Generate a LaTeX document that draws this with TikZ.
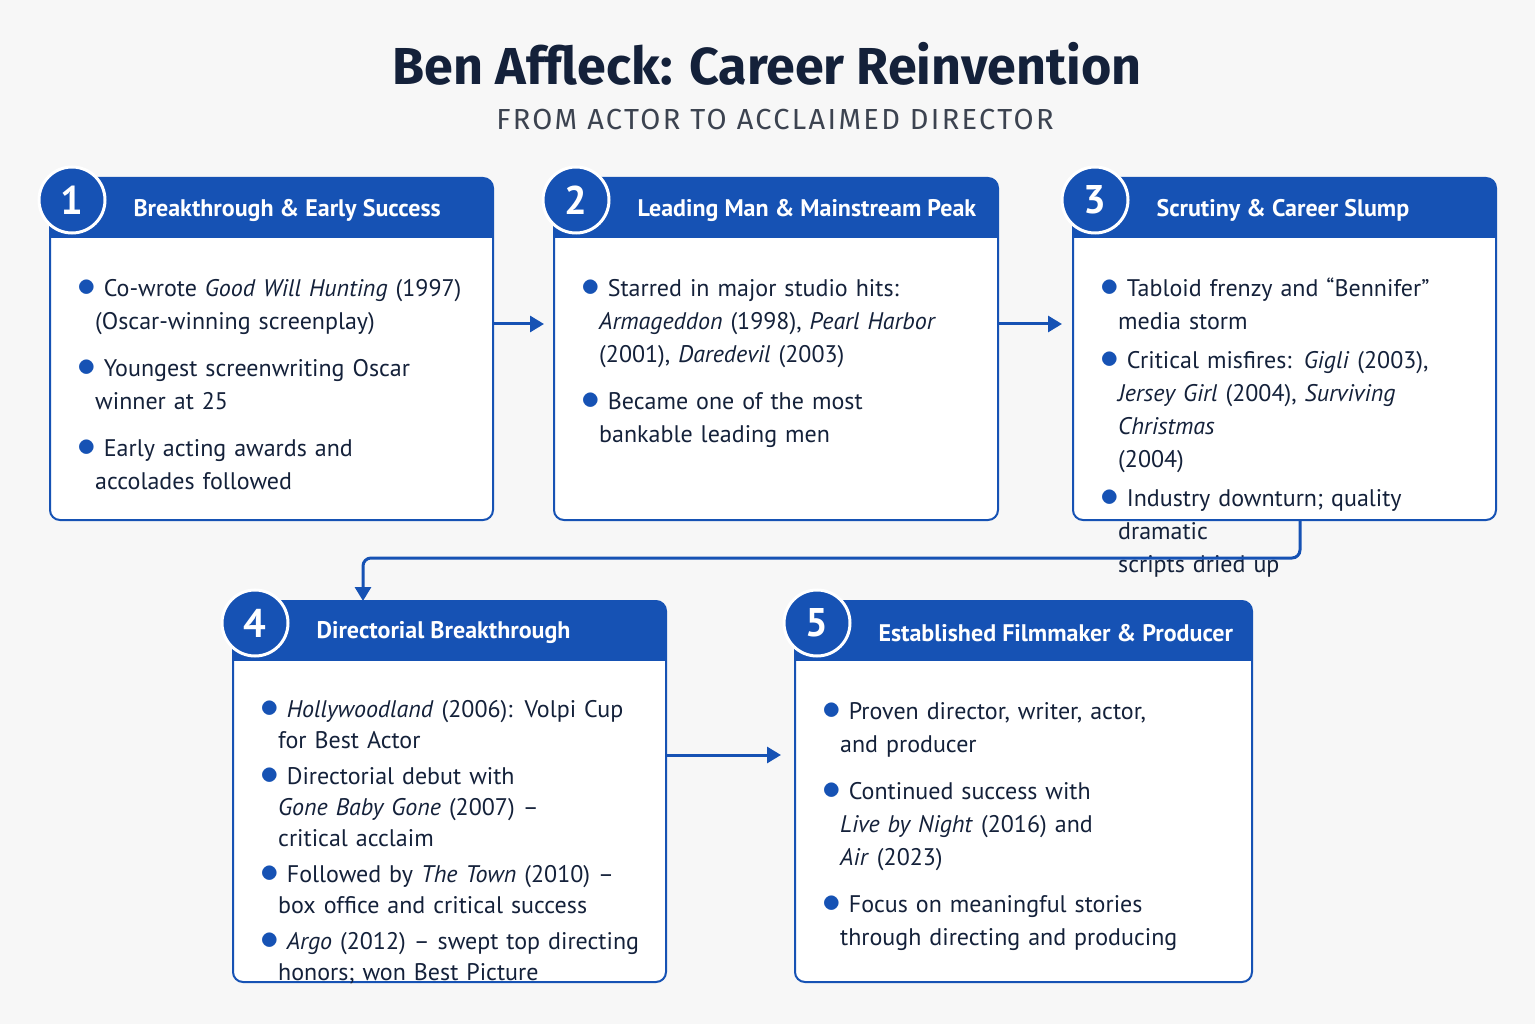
\documentclass[tikz,border=0pt]{standalone}
\usepackage{fontspec}
\setmainfont{Fira Sans}
\newfontfamily\hfont{PT Sans}
\usepackage{enumitem}
\usetikzlibrary{arrows.meta}
\definecolor{bl}{HTML}{1652B4}
\definecolor{ink}{HTML}{14213A}
\definecolor{sub}{HTML}{3C4350}
\newcommand{\blist}[2]{\begin{itemize}[leftmargin=20pt,labelwidth=10pt,labelsep=8pt,align=left,label={\textcolor{bl}{\raisebox{0pt}{\scalebox{1.5}{$\bullet$}}}},itemsep=#1,topsep=0pt,parsep=0pt,partopsep=0pt]#2\end{itemize}}
\begin{document}
\begin{tikzpicture}[x=1pt,y=-1pt,
  box/.style={draw=bl,line width=2pt,rounded corners=10pt,fill=white},
  num/.style={circle,draw=white,line width=3pt,fill=bl,minimum size=66pt,inner sep=0pt,text=white,font=\hfont\bfseries\fontsize{40}{40}\selectfont},
  htxt/.style={text=white,font=\hfont\bfseries\fontsize{24}{24}\selectfont,anchor=west},
  body/.style={anchor=north west,align=left,font=\hfont\fontsize{24}{33}\selectfont,text=ink,inner sep=0pt},
  arr/.style={draw=bl,line width=3pt,-{Triangle[length=14pt,width=16pt]}}]
\useasboundingbox (0,0) rectangle (1535,1024);
\fill[white!97!black] (0,0) rectangle (1535,1024);
\node[font=\bfseries\fontsize{52}{52}\selectfont,text=ink] (title) at (767,64) {Ben Affleck: Career Reinvention};
\node[font=\fontsize{29}{29}\selectfont,text=sub] (subt) at (775,120) {\addfontfeature{LetterSpace=8}FROM ACTOR TO ACCLAIMED DIRECTOR};
\newcommand{\stage}[9]{% name,x1,y1,x2,y2,num,title,sep,body
  \draw[box] (#2,#3) rectangle (#4,#5);
  \begin{scope}
  \clip[rounded corners=10pt] (#2,#3) rectangle (#4,#5);
  \fill[bl] (#2,#3) rectangle (#4,#3+60);
  \end{scope}
  \node[draw=none,fill=none,minimum width=#4-#2,minimum height=#5-#3,anchor=north west,inner sep=0pt] (#1) at (#2,#3) {};
  \node[num] (#1n) at (#2+22,#3+22) {#6};
  \node[htxt] (#1t) at (#2+80,#3+32) {#7};
  \node[body,text width=#4-#2-40] (#1b) at (#2+25,#3+85) {\blist{#8}{#9}};
}
\stage{s1}{50}{178}{493}{520}{1}{Breakthrough \& Early Success}{14pt}{\item Co-wrote \emph{Good Will Hunting} (1997)\\ (Oscar-winning screenplay)\item Youngest screenwriting Oscar\\ winner at 25\item Early acting awards and\\ accolades followed}
\stage{s2}{554}{178}{998}{520}{2}{Leading Man \& Mainstream Peak}{14pt}{\item Starred in major studio hits:\\ \emph{Armageddon} (1998), \emph{Pearl Harbor}\\ (2001), \emph{Daredevil} (2003)\item Became one of the most\\ bankable leading men}
\stage{s3}{1073}{178}{1496}{520}{3}{Scrutiny \& Career Slump}{6pt}{\item Tabloid frenzy and “Bennifer”\\ media storm\item Critical misfires: \emph{Gigli} (2003),\\ \emph{Jersey Girl} (2004), \emph{Surviving Christmas}\\ (2004)\item Industry downturn; quality dramatic\\ scripts dried up}
\stage{s4}{233}{601}{666}{982}{4}{Directorial Breakthrough}{5pt}{\fontsize{24}{31}\selectfont\item \emph{Hollywoodland} (2006): Volpi Cup\\ for Best Actor\item Directorial debut with\\ \emph{Gone Baby Gone} (2007) –\\ critical acclaim\item Followed by \emph{The Town} (2010) –\\ box office and critical success\item \emph{Argo} (2012) – swept top directing\\ honors; won Best Picture}
\stage{s5}{795}{601}{1252}{982}{5}{Established Filmmaker \& Producer}{14pt}{\item Proven director, writer, actor,\\ and producer\item Continued success with\\ \emph{Live by Night} (2016) and\\ \emph{Air} (2023)\item Focus on meaningful stories\\ through directing and producing}
\coordinate (a1) at (544,324);
\coordinate (a2) at (1062,324);
\coordinate (c1) at (1300,558);
\coordinate (c2) at (363,558);
\coordinate (a4) at (781,755);
\draw[arr] (s1.east|-a1) -- (a1);
\draw[arr] (s2.east|-a2) -- (a2);
\draw[arr,rounded corners=8pt] (s3.south-|c1) -- (c1) -- (c2) -- (s4.north-|c2);
\draw[arr] (s4.east|-a4) -- (a4);
\end{tikzpicture}
\end{document}
